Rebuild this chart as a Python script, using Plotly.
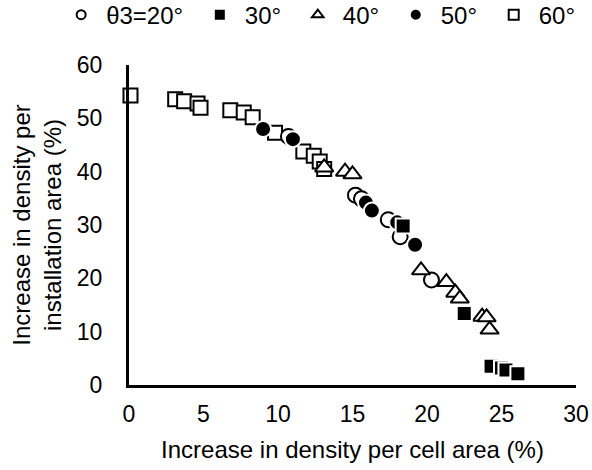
import plotly.graph_objects as go

# θ3 = 20° (open circles)
x20 = [10.7, 15.2, 15.6, 17.4, 18.2, 20.3]
y20 = [46.6, 35.6, 34.9, 31.0, 27.8, 19.7]
# 30° (filled squares)
x30 = [18.4, 22.5, 24.3, 25.0, 25.3, 26.1]
y30 = [29.8, 13.4, 3.5, 3.2, 2.8, 2.1]
# 40° (open triangles)
x40 = [13.1, 14.5, 15.0, 19.6, 21.3, 21.9, 22.2, 23.7, 24.0, 24.2]
y40 = [40.8, 40.0, 39.5, 21.5, 19.3, 17.3, 16.2, 12.8, 12.7, 10.4]
# 50° (filled circles)
x50 = [9.0, 11.0, 15.9, 16.3, 18.0, 19.2]
y50 = [48.0, 46.1, 34.2, 32.7, 30.5, 26.3]
# 60° (open squares)
x60 = [0.1, 3.1, 3.7, 4.6, 4.8, 6.8, 7.7, 8.3, 9.8, 11.7, 12.4, 12.8, 13.1]
y60 = [54.3, 53.6, 53.2, 52.8, 52.0, 51.5, 51.1, 50.2, 47.3, 43.8, 43.0, 41.9, 40.5]

labels = ["θ3=20°", "30°", "40°", "50°", "60°"]

fig = go.Figure()

series = [
    (x60, y60, "square", "white", "black", 14),
    (x20, y20, "circle", "white", "black", 15),
    (x40, y40, "triangle-up", "white", "black", 16),
    (x50, y50, "circle", "black", "white", 16),
    (x30, y30, "square", "black", "white", 15),
]
for xs, ys, sym, fill, edge, sz in series:
    fig.add_trace(go.Scatter(x=xs, y=ys, mode="markers", showlegend=False,
                             cliponaxis=False,
                             marker=dict(symbol=sym, size=sz, color=fill,
                                         line=dict(color=edge, width=2))))

leg = [
    ("circle-open", 9),
    ("square", 8),
    ("triangle-up-open", 10),
    ("circle", 8),
    ("square-open", 10),
]
nb = "\u00a0"
for (sym, sz), lab in zip(leg, labels):
    fig.add_trace(go.Scatter(x=[None], y=[None], mode="markers",
                             name=lab + nb,
                             marker=dict(symbol=sym, size=sz, color="black",
                                         line=dict(color="black", width=2))))

font = "Liberation Sans, Arial, sans-serif"
fig.update_layout(
    width=592, height=470,
    margin=dict(l=129, r=16, t=65, b=85, autoexpand=False),
    plot_bgcolor="white", paper_bgcolor="white",
    font=dict(family=font, size=23, color="black"),
    legend=dict(orientation="h", x=-0.163, xanchor="left", y=1.156, yanchor="middle",
                yref="paper", xref="paper", font=dict(size=24),
                bgcolor="rgba(0,0,0,0)",
                itemwidth=40, tracegroupgap=0),
    xaxis=dict(range=[0, 30], tickvals=[0, 5, 10, 15, 20, 25, 30],
               showgrid=False, zeroline=False, showline=True, linewidth=3,
               linecolor="black", ticks="outside", ticklen=6, tickcolor="white",
               tickfont=dict(size=23), automargin=False,
               title=dict(text="Increase in density per cell area (%)",
                          font=dict(size=24), standoff=16)),
    yaxis=dict(range=[0, 60], tickvals=[0, 10, 20, 30, 40, 50, 60],
               showgrid=False, zeroline=False, showline=True, linewidth=3,
               linecolor="black", ticks="outside", ticklen=19, tickcolor="white",
               tickfont=dict(size=23), automargin=False,
               title=dict(text="Increase in density per<br>installation area (%)",
                          font=dict(size=24), standoff=9)),
)
fig.write_html("out.html", config={"displayModeBar": False},
               post_script="document.body.style.margin='0px';")
